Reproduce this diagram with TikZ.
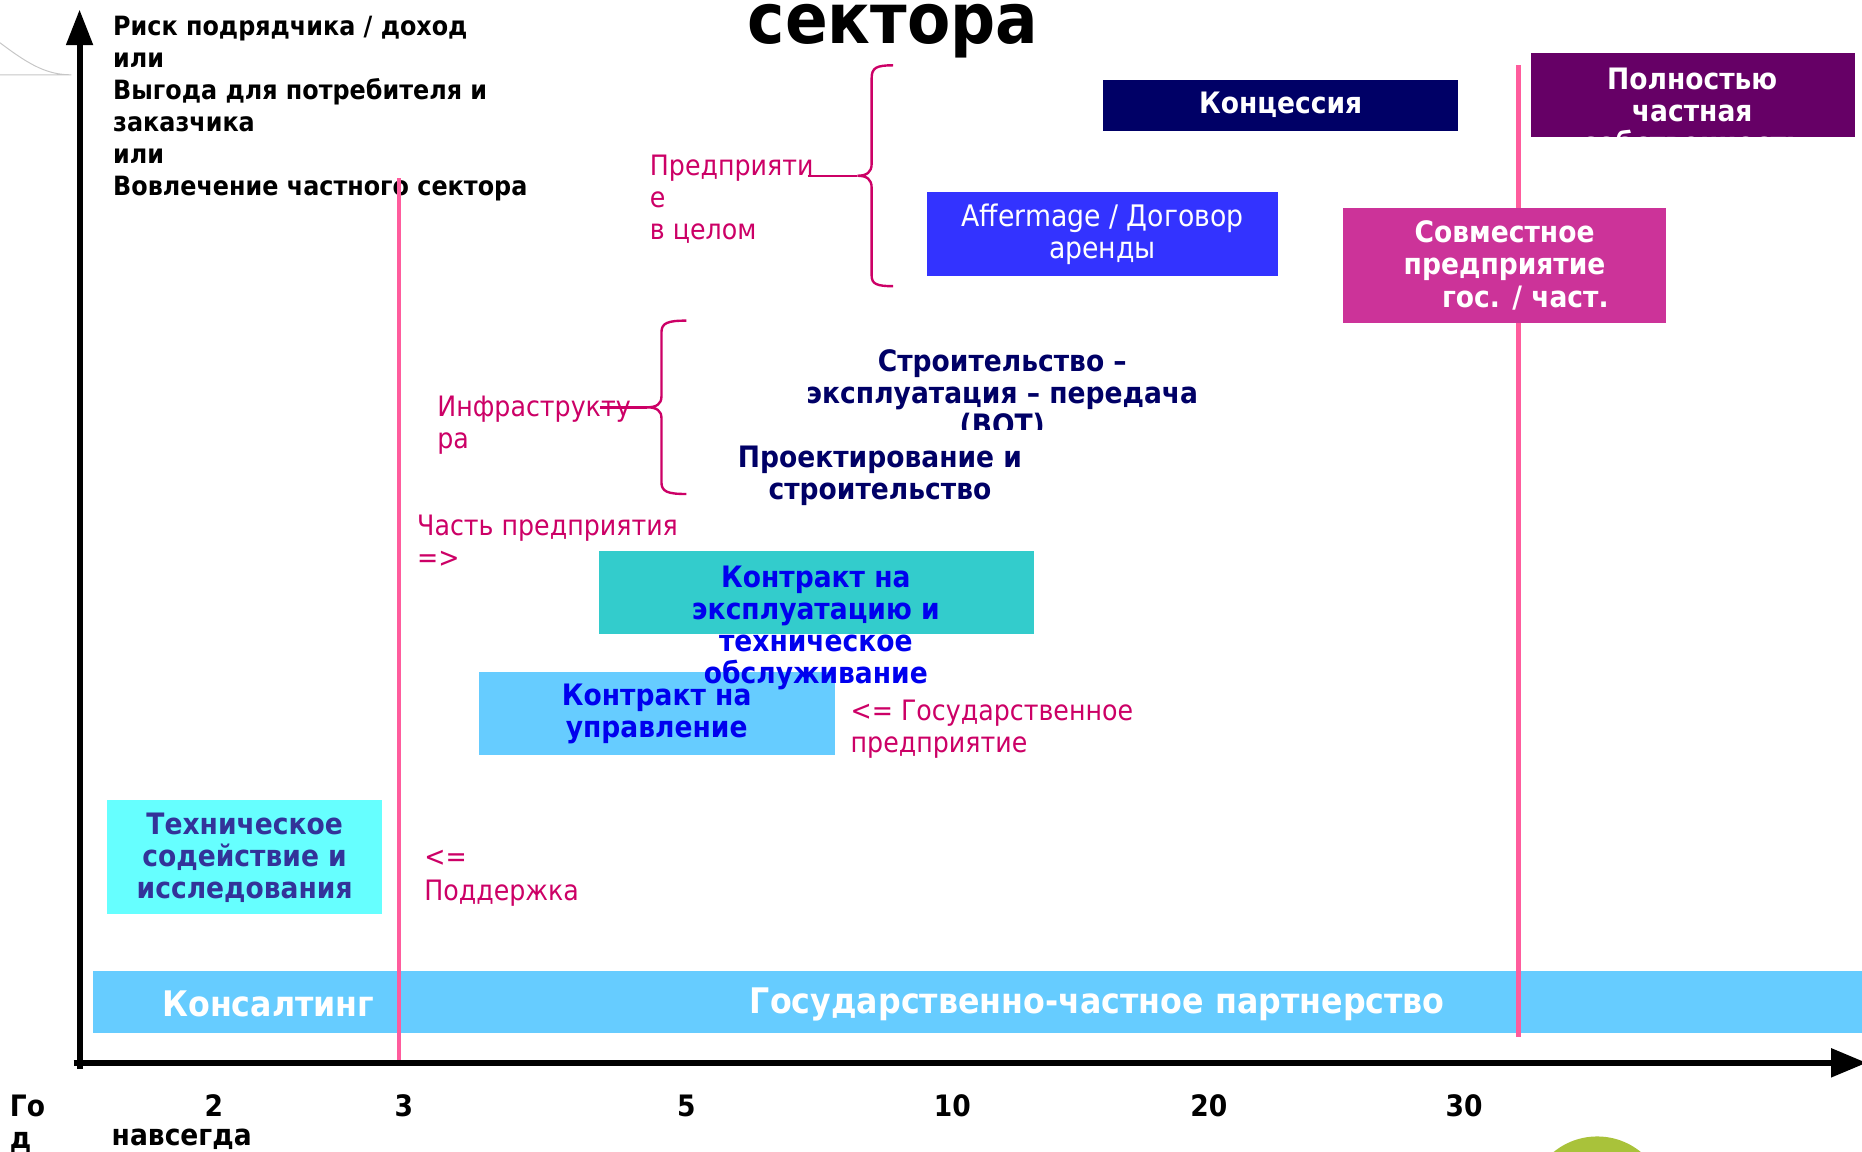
\documentclass[tikz,border=0pt]{standalone}
\usepackage{fontspec}
\setmainfont{DejaVu Sans}
\newfontfamily\bfam{DejaVu Sans}[FakeStretch=0.9]
\usetikzlibrary{arrows.meta}
\definecolor{navyc}{HTML}{000066}
\definecolor{purplec}{HTML}{660066}
\definecolor{afferc}{HTML}{3333FF}
\definecolor{jointc}{HTML}{CC3399}
\definecolor{tealc}{HTML}{33CCCC}
\definecolor{lblue}{HTML}{66CCFF}
\definecolor{cyanc}{HTML}{66FFFF}
\definecolor{tblue}{HTML}{0000EE}
\definecolor{techc}{HTML}{333399}
\definecolor{crim}{HTML}{CC0066}
\definecolor{pinkc}{HTML}{FF5C9D}
\definecolor{greenc}{HTML}{A9C23A}
\begin{document}
\begin{tikzpicture}[x=0.6pt,y=-0.6pt,
  lt/.style={font=\bfam\bfseries\fontsize{13.4}{16.2}\selectfont, inner sep=0pt},
  bt/.style={font=\bfam\bfseries\fontsize{14.9}{16.2}\selectfont, inner sep=0pt},
  bigt/.style={font=\bfam\bfseries\fontsize{17.8}{20}\selectfont, inner sep=0pt, text=white},
  rt/.style={font=\bfam\fontsize{14.2}{16.2}\selectfont, inner sep=0pt, text=crim, align=left},
  box/.style={inner sep=0pt, draw=none, align=center},
  axisline/.style={line width=3pt, black},
  pinkline/.style={line width=2.4pt, pinkc},
  bracec/.style={line width=1.2pt, crim}]
\useasboundingbox (0,0) rectangle (1568,970);
\clip (0,0) rectangle (1568,970);
% faint arc
\draw[gray!45, line width=0.5pt] (0,36) .. controls (25,55) and (40,63) .. (60,63) -- (0,63);
% title
\node[font=\bfam\bfseries\fontsize{35.4}{40}\selectfont, inner sep=0pt, anchor=base] (title) at (752,37) {сектора};
% axis caption
\node[lt, anchor=north west, align=left] (ylabel) at (95,13) {Риск подрядчика / доход\\или\\Выгода для потребителя и\\заказчика\\или\\Вовлечение частного сектора};
% axes
\coordinate (o) at (67,900);
\coordinate (ytip) at (67,8);
\coordinate (ox) at (62,895);
\coordinate (xtip) at (1572,895);
\draw[axisline, -{Triangle[length=18pt,width=13pt]}] (o) -- (ytip);
\draw[axisline, -{Triangle[length=18pt,width=14pt]}] (ox) -- (xtip);
% bottom bar
\node[box, fill=lblue, minimum width=901.2pt, minimum height=31.2pt] (bar) at (829,844) {};
\node[bigt] (kons) at (226,845) {Консалтинг};
\node[bigt] (gchp) at (924,846) {Государственно-частное партнерство};
% braces
\draw[bracec] (752,55) .. controls (738,55) and (734,57) .. (734,66) -- (734,138)
  .. controls (734,145) and (730,148) .. (722,148)
  .. controls (730,148) and (734,151) .. (734,158) -- (734,232)
  .. controls (734,239) and (738,241) .. (752,241);
\coordinate (b1a) at (680,148);
\coordinate (b1b) at (722,148);
\draw[bracec] (b1a) -- (b1b);
\draw[bracec] (578,270) .. controls (562,270) and (557,272) .. (557,280) -- (557,334)
  .. controls (557,340) and (553,343) .. (545,343)
  .. controls (553,343) and (557,346) .. (557,352) -- (557,406)
  .. controls (557,414) and (562,416) .. (578,416);
\coordinate (b2a) at (505,343);
\coordinate (b2b) at (545,343);
\draw[bracec] (b2a) -- (b2b);
% crimson labels
\node[rt, anchor=north west] (pred) at (547,130) {Предприяти\\е\\в целом};
\node[rt, anchor=north west] (infra) at (368,333) {Инфраструкту\\ра};
\node[rt, anchor=north west] (chast) at (351,433) {Часть предприятия\\=>};
\node[rt, anchor=north west] (gosp) at (716,589) {<= Государственное\\предприятие};
\node[rt, anchor=north west] (podd1) at (357,716) {<=};
\node[rt, anchor=north west] (podd2) at (357,741) {Поддержка};
% boxes
\node[box, fill=navyc, minimum width=179.4pt, minimum height=25.8pt, bt, text=white] (konc) at (1078.5,88.5) {Концессия};
\node[box, fill=purplec, minimum width=163.8pt, minimum height=42pt] (poln) at (1425.5,80) {};
\node[bt, text=white, align=center, anchor=north] (polnt) at (1425,57) {Полностью\\частная\\собственность};
\node[box, fill=afferc, minimum width=177pt, minimum height=42pt, font=\bfam\fontsize{15}{16.2}\selectfont, text=white] (affer) at (928.5,197) {Affermage / Договор\\аренды};
\begin{scope}
\clip (560,280) rectangle (1150,362);
\node[bt, text=navyc, align=center, anchor=north] (bot) at (844,294) {Строительство –\\эксплуатация – передача\\(BOT)};
\end{scope}
\node[bt, text=navyc, align=center, anchor=north] (proekt) at (741,375) {Проектирование и\\строительство};
\node[box, fill=lblue, minimum width=180pt, minimum height=42pt, bt, text=tblue] (upr) at (553,601) {Контракт на\\управление};
\node[box, fill=tealc, minimum width=220.2pt, minimum height=42pt] (om) at (687.5,499) {};
\node[bt, text=tblue, align=center, anchor=north] (omt) at (687,476) {Контракт на\\эксплуатацию и\\техническое\\обслуживание};
\node[box, fill=cyanc, minimum width=139.2pt, minimum height=57.6pt, bt, text=techc] (tech) at (206,722) {Техническое\\содействие и\\исследования};
% pink lines
\coordinate (p1t) at (336,150);
\coordinate (p1b) at (336,893);
\coordinate (p2t) at (1279,55);
\coordinate (p2b) at (1279,873);
\draw[pinkline] (p1t) -- (p1b);
\draw[pinkline] (p2t) -- (p2b);
\node[box, fill=jointc, minimum width=163.2pt, minimum height=58.2pt, bt, text=white] (joint) at (1267,223.5) {Совместное\\предприятие\\\hspace*{21pt}гос. / част.};
% axis tick labels
\node[bt, anchor=north west, align=left] (god) at (8,922) {Го\\д};
\node[bt] (t2) at (180,931) {2};
\node[bt] (nav) at (153,959) {навсегда};
\node[bt] (t3) at (340,931) {3};
\node[bt] (t5) at (578,931) {5};
\node[bt] (t10) at (802,931) {10};
\node[bt] (t20) at (1018,931) {20};
\node[bt] (t30) at (1233,931) {30};
% green circle
\fill[greenc] (1345,1015) circle[radius=34.8pt];
\end{tikzpicture}
\end{document}
